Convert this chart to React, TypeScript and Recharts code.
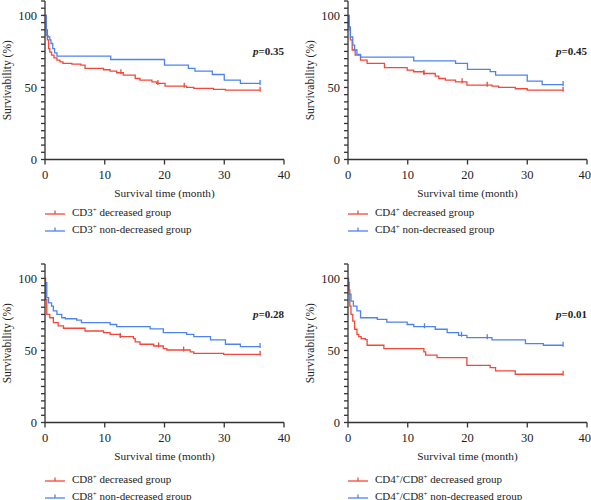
import React from 'react';
import { LineChart, Line, XAxis, YAxis, Legend } from 'recharts';

// ---- Data ----
const xTicks = [0, 10, 20, 30, 40];
const yTicks = [0, 5, 10, 15, 20, 25, 30, 35, 40, 45, 50, 55, 60, 65, 70, 75, 80, 85, 90, 95, 100, 105, 110];
const yLabelTicks = [0, 50, 100];

// Panel A: CD3+
const cd3DecT = [0, 0.2, 0.4, 0.6, 0.8, 1.1, 1.5, 2.0, 2.5, 3.0, 4.5, 6.0, 6.7, 9.8, 10.9, 12.0, 13.1, 15.1, 15.9, 17.9, 18.7, 20.1, 23.7, 24.9, 28.2, 30.2, 36];
const cd3DecS = [100, 90, 83, 77, 74.5, 72.5, 70.5, 69, 67.8, 66.7, 66.2, 65.5, 63.2, 62.3, 61.3, 60.2, 58.6, 56.2, 55.1, 53.9, 52.8, 50.9, 50, 49.3, 48.6, 48.1, 48.1];
const cd3DecCens = [12.7, 18.9, 23.3, 36];
const cd3NonT = [0, 0.2, 0.5, 0.8, 1.0, 1.3, 1.6, 2.0, 11.0, 20.0, 24.0, 25.1, 28.0, 30.0, 32.7, 36];
const cd3NonS = [100, 86, 85, 83, 80.5, 77, 74, 71.8, 69.4, 65.5, 63.2, 61.3, 59, 55.1, 52.8, 52.8];
const cd3NonCens = [36];

// Panel B: CD4+
const cd4DecT = [0, 0.2, 0.4, 0.7, 1.2, 2.1, 3.2, 6.1, 9.9, 11.0, 12.7, 14.6, 15.2, 16.3, 18.0, 19.9, 24.1, 25.2, 28.0, 30.0, 36];
const cd4DecS = [100, 90, 83, 76, 72.5, 69, 66.7, 63.7, 62, 60.9, 59.7, 57.9, 56.2, 55.1, 53.9, 51.6, 50.9, 50, 49.1, 48.1, 48.1];
const cd4DecCens = [12.7, 19.1, 23.3, 36];
const cd4NonT = [0, 0.1, 0.4, 0.8, 1.1, 1.5, 2.1, 11.0, 18.0, 20.0, 23.8, 24.7, 30.0, 32.5, 36];
const cd4NonS = [100, 92, 85, 79.4, 76, 73, 71, 68.5, 66.7, 62.5, 61, 58.6, 54.4, 52, 52];
const cd4NonCens = [36];

// Panel C: CD8+
const cd8DecT = [0, 0.1, 0.3, 0.8, 1.4, 2.2, 3.1, 6.7, 9.8, 10.9, 12.6, 14.8, 15.1, 15.9, 18.2, 19.8, 20.4, 24.3, 24.9, 29.9, 36];
const cd8DecS = [100, 85.5, 75, 72.7, 69.3, 67, 65.4, 63.5, 62.4, 61.2, 59.6, 58.2, 55.9, 54.3, 53.1, 51.3, 50.3, 49, 48, 47.3, 47.3];
const cd8DecCens = [12.6, 19.0, 23.2, 36];
const cd8NonT = [0, 0.05, 0.3, 0.6, 1.1, 1.4, 2.0, 2.8, 3.4, 5.3, 6.1, 10.9, 12.0, 17.6, 19.8, 23.7, 24.9, 27.7, 30.2, 32.7, 36];
const cd8NonS = [100, 97, 86.6, 83, 80.8, 77.4, 75, 72.7, 72, 71, 69.3, 68, 66.5, 65, 62.4, 61.2, 59.6, 57.3, 54.3, 52.7, 52.7];
const cd8NonCens = [36];

// Panel D: CD4+/CD8+
const ratioDecT = [0, 0.1, 0.3, 0.5, 0.8, 1.1, 1.5, 1.8, 2.2, 2.9, 3.2, 6.0, 12.7, 13.0, 14.9, 19.9, 23.8, 24.7, 28.0, 36];
const ratioDecS = [100, 92, 80.8, 75, 70.4, 64.7, 61.2, 59.6, 58.2, 57.5, 53.6, 51.3, 49, 46.7, 45, 39.7, 38.1, 35.8, 33.5, 33.5];
const ratioDecCens = [36];
const ratioNonT = [0, 0.05, 0.2, 0.5, 0.9, 1.5, 2.1, 4.9, 6.5, 9.9, 11.0, 14.6, 16.6, 18.5, 19.9, 24.1, 29.7, 32.7, 36];
const ratioNonS = [100, 97, 89, 84.3, 80.8, 77.4, 72.7, 71.6, 69.7, 68, 66.5, 64.7, 62.4, 60.5, 58.9, 57.3, 54.7, 53.6, 53.6];
const ratioNonCens = [12.8, 19.0, 23.3, 36];

const groupNames = ['CD3', 'CD4', 'CD8', 'CD4/CD8'];
const pValues = ['0.35', '0.45', '0.28', '0.01'];

// ---- Styles ----
const RED = '#f4473a';
const BLUE = '#4d83ef';
const AXIS = '#333333';
const FONT = 'Liberation Serif, DejaVu Serif, serif';

type Pt = { t: number; s: number; c?: boolean };

function buildSeries(times: number[], surv: number[], cens: number[]): Pt[] {
  const pts: Pt[] = times.map((t, i) => ({ t, s: surv[i] }));
  cens.forEach((c) => {
    const existing = pts.find((p) => p.t === c);
    if (existing) {
      existing.c = true;
      return;
    }
    let idx = 0;
    for (let i = 0; i < times.length; i++) if (times[i] <= c) idx = i;
    pts.push({ t: c, s: surv[idx], c: true });
  });
  return pts.sort((a, b) => a.t - b.t);
}

const panels = [
  { dec: buildSeries(cd3DecT, cd3DecS, cd3DecCens), non: buildSeries(cd3NonT, cd3NonS, cd3NonCens) },
  { dec: buildSeries(cd4DecT, cd4DecS, cd4DecCens), non: buildSeries(cd4NonT, cd4NonS, cd4NonCens) },
  { dec: buildSeries(cd8DecT, cd8DecS, cd8DecCens), non: buildSeries(cd8NonT, cd8NonS, cd8NonCens) },
  { dec: buildSeries(ratioDecT, ratioDecS, ratioDecCens), non: buildSeries(ratioNonT, ratioNonS, ratioNonCens) },
];

const layouts = [
  { left: 0, top: 0, width: 295, legendTop: 203 },
  { left: 303, top: 0, width: 288, legendTop: 203 },
  { left: 0, top: 263, width: 295, legendTop: 207 },
  { left: 303, top: 263, width: 288, legendTop: 207 },
];

const CHART_H = 237;
const PLOT_RIGHT = 284;

function makeDot(color: string) {
  return (props: any) => {
    const { cx, cy, payload, index } = props;
    if (!payload || !payload.c || cx == null || cy == null) return <g key={`d-${index}`} />;
    return <line key={`d-${index}`} x1={cx} x2={cx} y1={cy - 3.5} y2={cy + 1.5} stroke={color} strokeWidth={1.3} />;
  };
}

const YTick = (props: any) => {
  const { x, y, payload } = props;
  if (!yLabelTicks.includes(payload.value)) return <g />;
  return (
    <text x={x} y={y} dy="0.35em" textAnchor="end" style={{ fontFamily: FONT }} fontSize={12.5} fill="#222">
      {payload.value}
    </text>
  );
};

function Name({ g }: { g: string }) {
  const sup = <sup style={{ fontSize: 7, lineHeight: 0, verticalAlign: '4px' }}>+</sup>;
  if (g === 'CD4/CD8') {
    return (
      <span>
        CD4{sup}/CD8{sup}
      </span>
    );
  }
  return (
    <span>
      {g}
      {sup}
    </span>
  );
}

function LegendSymbol({ color }: { color: string }) {
  return (
    <svg width={20} height={8} style={{ display: 'block' }}>
      <line x1={0} x2={20} y1={6} y2={6} stroke={color} strokeWidth={1.3} />
      <line x1={10} x2={10} y1={2.5} y2={6} stroke={color} strokeWidth={1.3} />
    </svg>
  );
}

function makeLegend(g: string) {
  return () => (
    <div style={{ fontFamily: FONT, fontSize: 11, color: '#222' }}>
      {[
        { color: RED, label: 'decreased group' },
        { color: BLUE, label: 'non-decreased group' },
      ].map((r) => (
        <div key={r.label} style={{ display: 'flex', alignItems: 'center', height: 17 }}>
          <LegendSymbol color={r.color} />
          <span style={{ marginLeft: 7, whiteSpace: 'nowrap' }}>
            <Name g={g} /> {r.label}
          </span>
        </div>
      ))}
    </div>
  );
}

function Panel({ i }: { i: number }) {
  const lay = layouts[i];
  const data = panels[i];
  const rightMargin = lay.width - PLOT_RIGHT;
  return (
    <div style={{ position: 'absolute', left: lay.left, top: lay.top, width: lay.width, height: CHART_H }}>
      <LineChart width={lay.width} height={CHART_H} margin={{ top: 1, right: rightMargin, left: 0, bottom: 40.5 }} style={{ fontFamily: FONT }}>
        <XAxis
          dataKey="t"
          type="number"
          domain={[0, 40]}
          ticks={xTicks}
          allowDataOverflow
          height={37}
          tickSize={5}
          tickMargin={6}
          stroke={AXIS}
          strokeWidth={1.3}
          tick={{ fontFamily: FONT, fontSize: 12.5, fill: '#222' }}
          label={{
            value: 'Survival time (month)',
            position: 'insideBottom',
            offset: 0,
            style: { fontFamily: FONT, fontSize: 11.3, fill: '#222' },
          }}
        />
        <YAxis
          type="number"
          domain={[0, 110]}
          ticks={yTicks}
          interval={0}
          width={45}
          tickSize={4}
          tickMargin={4}
          stroke={AXIS}
          strokeWidth={1.3}
          tick={<YTick />}
          label={{
            value: 'Survivability (%)',
            angle: -90,
            position: 'insideLeft',
            offset: 7,
            style: { fontFamily: FONT, fontSize: 11.5, fill: '#222', textAnchor: 'middle' },
          }}
        />
        <Line
          data={data.dec}
          dataKey="s"
          type="stepAfter"
          stroke={RED}
          strokeWidth={1.3}
          dot={makeDot(RED)}
          activeDot={false}
          isAnimationActive={false}
        />
        <Line
          data={data.non}
          dataKey="s"
          type="stepAfter"
          stroke={BLUE}
          strokeWidth={1.3}
          dot={makeDot(BLUE)}
          activeDot={false}
          isAnimationActive={false}
        />
        <Legend
          layout="horizontal"
          verticalAlign="middle"
          align="center"
          content={makeLegend(groupNames[i])}
          wrapperStyle={{ position: 'absolute', left: 45, top: lay.legendTop, width: 230, height: 34 }}
        />
      </LineChart>
      <div
        style={{
          position: 'absolute',
          right: rightMargin,
          top: 45,
          fontFamily: FONT,
          fontSize: 11,
          fontWeight: 'bold',
          color: '#222',
          whiteSpace: 'nowrap',
        }}
      >
        <i>p</i>={pValues[i]}
      </div>
    </div>
  );
}

export default function App() {
  return (
    <div style={{ position: 'fixed', left: 0, top: 0, width: 591, height: 500, background: '#fff', overflow: 'hidden', fontFamily: FONT }}>
      {[0, 1, 2, 3].map((i) => (
        <Panel key={i} i={i} />
      ))}
    </div>
  );
}
